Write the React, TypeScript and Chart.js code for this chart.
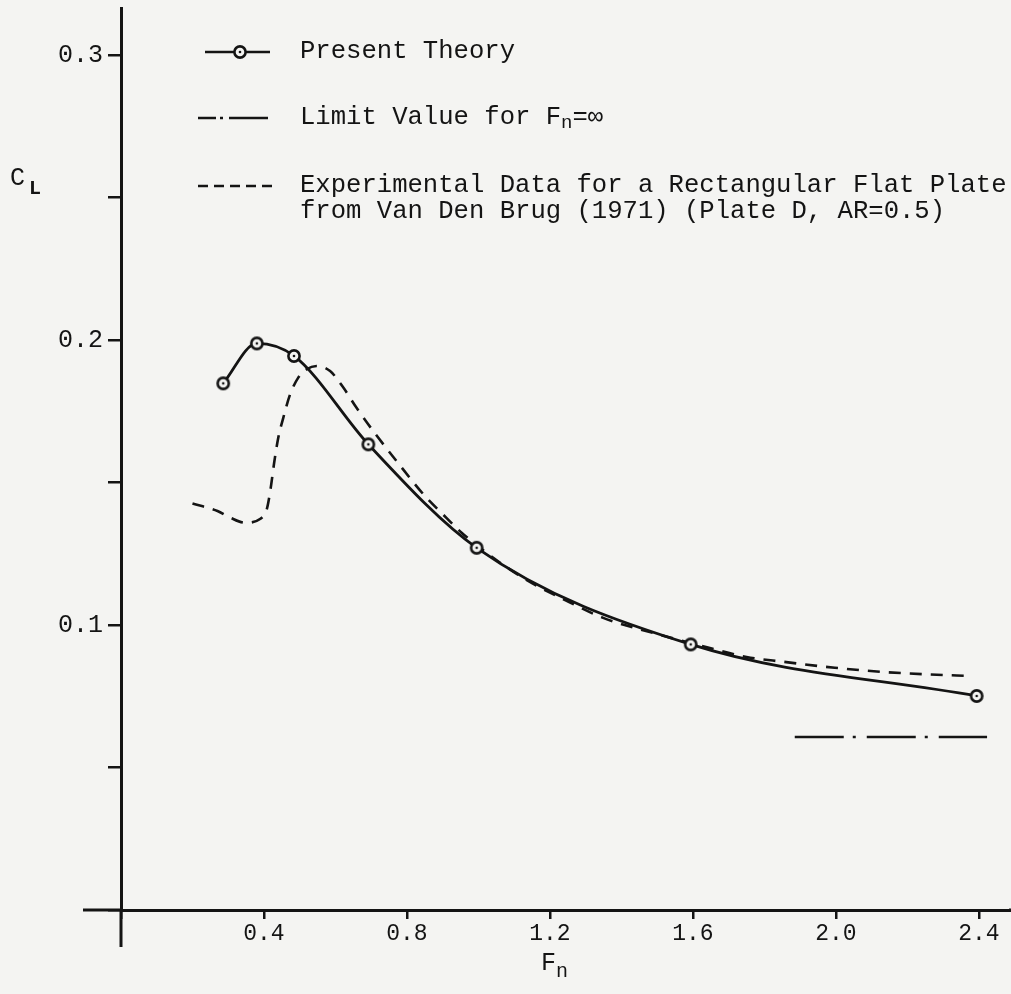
import React, { useEffect, useRef } from 'react';
import { Chart, registerables } from 'chart.js';

Chart.register(...registerables);

// ---- data ----
const theoryFn = [0.286, 0.38, 0.484, 0.692, 0.995, 1.594, 2.394];
const theoryCL = [0.1848, 0.1988, 0.1944, 0.1634, 0.1271, 0.0932, 0.0751];

const expFn = [0.2, 0.27, 0.305, 0.347, 0.389, 0.408, 0.419, 0.428, 0.44, 0.454, 0.473, 0.496, 0.519, 0.547, 0.585, 0.622, 0.659, 0.706, 0.771, 0.85, 0.9, 0.953, 1.0, 1.125, 1.237, 1.349, 1.489, 1.6, 1.75, 1.853, 1.997, 2.123, 2.254, 2.38];
const expCL = [0.1426, 0.14, 0.1377, 0.1359, 0.1372, 0.1407, 0.1482, 0.1565, 0.1657, 0.1727, 0.1809, 0.1868, 0.1897, 0.1909, 0.1891, 0.1833, 0.1762, 0.168, 0.1575, 0.1453, 0.1389, 0.1324, 0.1275, 0.1165, 0.1091, 0.1025, 0.0972, 0.0935, 0.0888, 0.0871, 0.085, 0.0836, 0.0827, 0.0821];

const limitFn = [1.885, 2.423];
const limitCL = [0.0607, 0.0607];

const xMin = 0;
const xMax = 2.49;
const xStep = 0.4;
const yMin = 0;
const yMax = 0.3165;
const yStep = 0.05;
const yLabelStep = 0.1;

const legendTheory = 'Present Theory';
const legendLimit = ['Limit Value for F', 'n', '=\u221E'];
const legendExp = ['Experimental Data for a Rectangular Flat Plate', 'from Van Den Brug (1971) (Plate D, AR=0.5)'];
const yTitle = ['C', 'L'];
const xTitle = ['F', 'n'];

const PAPER = '#f4f4f2';
const INK = '#141414';
const FONT = '"Liberation Mono", "DejaVu Sans Mono", monospace';

function makeMarker(): HTMLCanvasElement {
  const c = document.createElement('canvas');
  c.width = 18;
  c.height = 18;
  const g = c.getContext('2d')!;
  g.beginPath();
  g.arc(9, 9, 5.6, 0, Math.PI * 2);
  g.fillStyle = PAPER;
  g.fill();
  g.lineWidth = 2.6;
  g.strokeStyle = INK;
  g.stroke();
  g.beginPath();
  g.arc(9, 9, 1.3, 0, Math.PI * 2);
  g.fillStyle = INK;
  g.fill();
  return c;
}

export default function App() {
  const ref = useRef<HTMLCanvasElement>(null);

  useEffect(() => {
    const canvas = ref.current!;
    const marker = makeMarker();

    const extrasPlugin = {
      id: 'extras',
      afterDraw(chart: any) {
        const ctx = chart.ctx as CanvasRenderingContext2D;
        const xs = chart.scales.x;
        const ys = chart.scales.y;
        const x0 = xs.getPixelForValue(0);
        const y0 = ys.getPixelForValue(0);
        ctx.save();
        // axis extensions
        ctx.strokeStyle = INK;
        ctx.lineWidth = 3;
        ctx.beginPath();
        ctx.moveTo(x0, y0);
        ctx.lineTo(x0, y0 + 37);
        ctx.moveTo(x0, y0);
        ctx.lineTo(x0 - 38, y0);
        ctx.moveTo(chart.chartArea.right - 2, y0);
        ctx.lineTo(chart.width, y0);
        ctx.stroke();

        // axis titles
        ctx.fillStyle = INK;
        ctx.textBaseline = 'alphabetic';
        ctx.textAlign = 'left';
        ctx.font = `25px ${FONT}`;
        ctx.fillText(yTitle[0], 10, 185);
        ctx.font = `bold 20px ${FONT}`;
        ctx.fillText(yTitle[1], 29, 194);
        ctx.font = `25px ${FONT}`;
        ctx.fillText(xTitle[0], 541, 970);
        ctx.font = `20px ${FONT}`;
        ctx.fillText(xTitle[1], 556, 977);

        // legend
        const tx = 300;
        ctx.font = `25.6px ${FONT}`;
        ctx.textBaseline = 'middle';
        // row 1
        ctx.lineWidth = 2.6;
        ctx.setLineDash([]);
        ctx.beginPath();
        ctx.moveTo(205, 52);
        ctx.lineTo(270, 52);
        ctx.stroke();
        ctx.drawImage(marker, 240 - 9, 52 - 9);
        ctx.fillText(legendTheory, tx, 51);
        // row 2
        ctx.setLineDash([18, 4, 3, 6, 40, 200]);
        ctx.beginPath();
        ctx.moveTo(198, 118);
        ctx.lineTo(268, 118);
        ctx.stroke();
        ctx.setLineDash([]);
        ctx.fillText(legendLimit[0], tx, 117);
        const w = ctx.measureText(legendLimit[0]).width;
        ctx.font = `19px ${FONT}`;
        ctx.fillText(legendLimit[1], tx + w, 123);
        const w2 = ctx.measureText(legendLimit[1]).width;
        ctx.font = `25.6px ${FONT}`;
        ctx.fillText(legendLimit[2], tx + w + w2, 117);
        // row 3
        ctx.setLineDash([10, 6]);
        ctx.beginPath();
        ctx.moveTo(198, 186);
        ctx.lineTo(272, 186);
        ctx.stroke();
        ctx.setLineDash([]);
        ctx.fillText(legendExp[0], tx, 185);
        ctx.fillText(legendExp[1], tx, 211);
        ctx.restore();
      },
    };

    const chart = new Chart(canvas, {
      type: 'scatter',
      data: {
        datasets: [
          {
            label: legendTheory,
            data: theoryFn.map((x, i) => ({ x, y: theoryCL[i] })),
            showLine: true,
            borderColor: INK,
            borderWidth: 2.8,
            cubicInterpolationMode: 'monotone',
            pointStyle: marker as any,
            pointRadius: 6,
          },
          {
            label: legendExp.join(' '),
            data: expFn.map((x, i) => ({ x, y: expCL[i] })),
            showLine: true,
            borderColor: INK,
            borderWidth: 2.6,
            borderDash: [12, 9],
            cubicInterpolationMode: 'monotone',
            pointRadius: 0,
          },
          {
            label: legendLimit.join(''),
            data: limitFn.map((x, i) => ({ x, y: limitCL[i] })),
            showLine: true,
            borderColor: INK,
            borderWidth: 2.6,
            borderDash: [49, 9, 3, 11],
            pointRadius: 0,
          },
        ],
      },
      options: {
        animation: false,
        responsive: false,
        devicePixelRatio: 1,
        layout: { autoPadding: false, padding: { top: 8, right: 0, left: 0, bottom: 0 } },
        plugins: {
          legend: { display: false },
          tooltip: { enabled: false },
          title: { display: false },
        },
        scales: {
          x: {
            type: 'linear',
            min: xMin,
            max: xMax,
            afterFit: (s: any) => {
              s.height = 84;
              s.paddingLeft = 0;
              s.paddingRight = 0;
            },
            border: { display: true, color: INK, width: 3 },
            grid: { drawOnChartArea: false, drawTicks: true, tickLength: 9, color: INK, lineWidth: 2.5 },
            ticks: {
              stepSize: xStep,
              includeBounds: false,
              autoSkip: false,
              maxRotation: 0,
              color: INK,
              padding: 1,
              font: { family: FONT, size: 23 },
              callback: (v: any) => (v > 1e-9 ? Number(v).toFixed(1) : ''),
            },
          },
          y: {
            type: 'linear',
            min: yMin,
            max: yMax,
            afterFit: (s: any) => {
              s.width = 121;
              s.paddingTop = 0;
              s.paddingBottom = 0;
            },
            border: { display: true, color: INK, width: 3 },
            grid: { drawOnChartArea: false, drawTicks: true, tickLength: 13, color: INK, lineWidth: 2.5 },
            ticks: {
              stepSize: yStep,
              includeBounds: false,
              autoSkip: false,
              color: INK,
              padding: 5,
              font: { family: FONT, size: 25 },
              callback: (v: any) => {
                const r = v / yLabelStep;
                return v > 1e-9 && Math.abs(r - Math.round(r)) < 1e-6 ? Number(v).toFixed(1) : '';
              },
            },
          },
        },
      } as any,
      plugins: [extrasPlugin],
    });

    return () => chart.destroy();
  }, []);

  return (
    <div
      style={{
        position: 'fixed',
        left: 0,
        top: 0,
        width: 1011,
        height: 994,
        background: PAPER,
      }}
    >
      <canvas ref={ref} width={1011} height={994} style={{ display: 'block', width: 1011, height: 994 }} />
    </div>
  );
}
